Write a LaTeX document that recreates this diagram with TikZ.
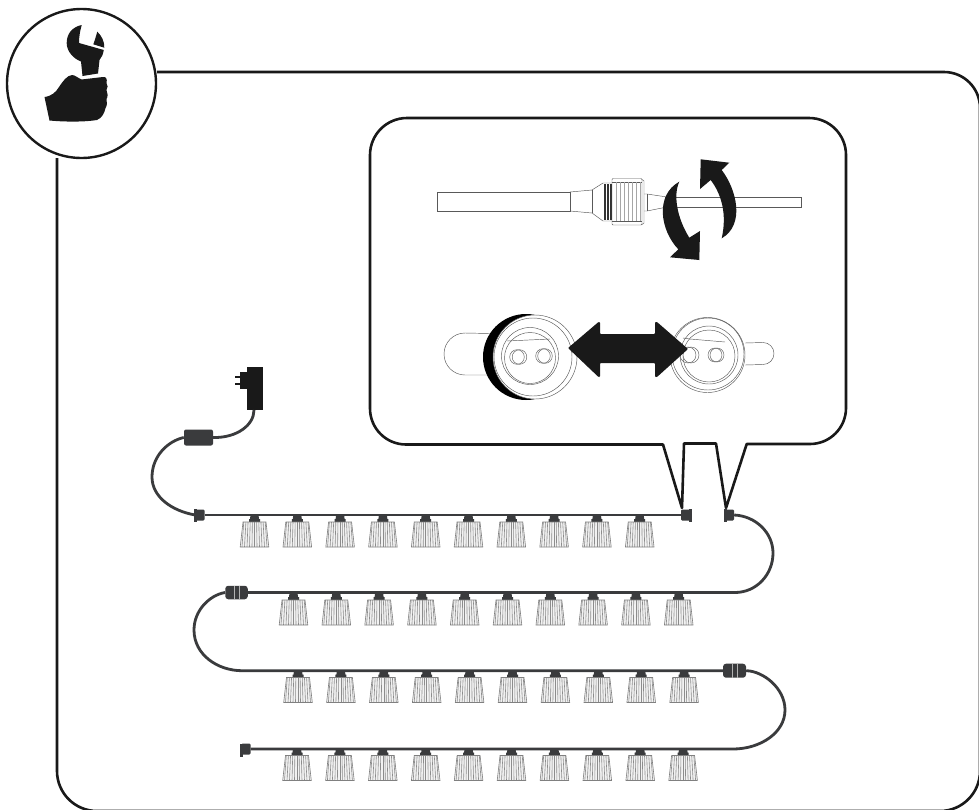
\documentclass[tikz,border=0pt]{standalone}
\begin{document}
\begin{tikzpicture}[x=1pt,y=-1pt,
  cablecol/.style={draw=cab,line width=2.8pt},
  thin line/.style={draw=black!65,line width=.45pt},
  framecol/.style={draw=black!90,line width=2.6pt},
  plugbody/.style={fill=cab,draw=none,rounded corners=1.2pt},
  lamp/.pic={
    \fill[cab] (-4,0) -- (4,0) -- (4.5,4) -- (5.5,4) -- (5.5,7) -- (-5.5,7) -- (-5.5,4) -- (-4.5,4) -- cycle;
    \fill[black!5] (-11.5,7) -- (11.5,7) -- (14.3,32) -- (-14.3,32) -- cycle;
    \foreach \k in {-5,...,5}{
      \draw[black!45,line width=.6pt] (\k*2.15,7) -- (\k*2.5,32);
    }
    \draw[black!50,line width=.6pt] (-11.5,7) -- (11.5,7) -- (14.3,32) -- (-14.3,32) -- cycle;
  }]
\definecolor{cab}{HTML}{3A3B3D}
\useasboundingbox (0,0) rectangle (979,809);
\fill[white] (0,0) rectangle (979,809);
% frame
\draw[framecol] (157,72) -- (944,72) arc[start angle=-90,end angle=0,radius=36] -- (980,771) arc[start angle=0,end angle=90,radius=40] -- (97,811) arc[start angle=90,end angle=180,radius=40] -- (57,158);
\node[circle,draw=black!90,line width=2.4pt,fill=white,minimum size=149pt,inner sep=0pt] (badge) at (81.5,83.5) {};
% wrench
\fill[black!90] (81,61.5) -- (82.5,76) -- (98,73.5) -- (99.5,60) .. controls (102,57.5) and (103,54) .. (103.8,50) -- (79,43) .. controls (79,37) and (80,31) .. (81.7,25) .. controls (72,27) and (66.7,34) .. (66.7,43) .. controls (66.7,51) and (73,58.5) .. (81,61.5) -- cycle;
\fill[black!90] (104.3,47.7) .. controls (104.5,42) and (102,36) .. (97.3,31.7) .. controls (96,36) and (95,40) .. (93.3,44.3) -- cycle;
% hand
\fill[black!90] (44.5,97) .. controls (52,96) and (56,92) .. (59,87) .. controls (63,81) and (67,75.5) .. (72,75) .. controls (75,75) and (78,78) .. (81.5,79.5) -- (103,77) .. controls (106,76.5) and (107.5,79) .. (106.5,83) .. controls (108,85) and (108,88) .. (106.5,90) .. controls (108,93) and (108,97) .. (106.5,99) .. controls (107.5,102) and (107,106) .. (105.5,108) .. controls (104.5,113) and (102,118) .. (97,120) .. controls (85,122) and (65,122) .. (49.5,120.5) -- cycle;
% callout
\draw[framecol,fill=white,line join=round] (663,444.5) -- (406,444.5) arc[start angle=90,end angle=180,radius=36] -- (370,155) arc[start angle=180,end angle=270,radius=37] -- (809,118) arc[start angle=-90,end angle=0,radius=37] -- (846,408) arc[start angle=0,end angle=90,radius=36] -- (746.7,444) -- (726,508) -- (716,443.5) -- (684,443.5) -- (682,508) -- cycle;
% nut and cable
\begin{scope}[thin line]
\draw (570,192) -- (437.5,192) -- (437.5,211) -- (570,211) -- cycle;
\draw (570,192) -- (592,190) -- (603,183) -- (612,183);
\draw (570,211) -- (592,213) -- (603,221) -- (612,221);
\draw (592,190) -- (592,213);
\fill[black!80] (604,184) rectangle (605.5,220);
\fill[black!80] (607,184) rectangle (608.5,220);
\fill[black!80] (610,184) rectangle (611.5,220);
\draw[rounded corners=1pt] (612,178.5) rectangle (642,225);
\draw (612,182) -- (642,182) (612,221) -- (642,221);
\foreach \xx in {616,620,624,628,632,636,640}{\draw[draw=black!35,line width=.3pt] (\xx,182) -- (\xx,221);}
\draw (642,179.5) -- (644,181) -- (644,223) -- (642,224.5);
\draw (644,194) -- (647,194) -- (667,197) (644,211) -- (647,211) -- (667,207);
\draw (647,194) -- (647,211);
\draw (665,197) -- (801,197) -- (801,207) -- (665,207);
\end{scope}
% curved arrows
\fill[black!90] (700.7,159.3) -- (729.3,162.7) -- (721.7,170) .. controls (737,190) and (745,225) .. (721.7,238.3) .. controls (727,215) and (722,195) .. (710.7,180) -- (700,189) -- cycle;
\fill[black!90] (679.3,181.7) .. controls (673,195) and (677,218) .. (689.3,237.7) -- (700,231) -- (699.3,260) -- (670,257.3) -- (678.3,249.3) .. controls (660,230) and (655,195) .. (679.3,181.7) -- cycle;
% left socket
\begin{scope}[thin line]
\draw (490,333.5) -- (465,333) arc[start angle=-90,end angle=-270,radius=21] -- (490,375);
\fill[black] (526,357) circle[radius=43];
\draw[fill=white] (535,357) circle[radius=42];
\draw (533,357) circle[radius=39];
\draw (530,356) circle[radius=28.5];
\draw (530,358) circle[radius=25.5];
\draw (507,341) -- (550,339);
\draw[fill=white] (517,357) circle[radius=7.3];
\draw (519.5,357) circle[radius=7.3];
\draw[fill=white] (543,356) circle[radius=7.3];
\draw (545,356) circle[radius=7.3];
% right socket
\draw (745,343) -- (763,342.5) arc[start angle=-90,end angle=90,radius=11] -- (745,365);
\draw[fill=white] (707.5,355) circle[radius=37.5];
\draw (708,354) circle[radius=36];
\draw (709,355) circle[radius=29];
\draw (709,356) circle[radius=26];
\draw (683,338) -- (690,339) -- (725,342);
\draw[fill=white] (691,355) circle[radius=8];
\draw (688,355) circle[radius=8];
\draw[fill=white] (715,355) circle[radius=7];
\draw (717,355) circle[radius=7];
\end{scope}
\fill[black!90,rounded corners=.8pt] (568,348) -- (598.5,322) -- (600,322) -- (600,334) -- (655,334) -- (655,322) -- (657,322) -- (688,349) -- (657,377) -- (655,377) -- (655,363) -- (600,363) -- (600,377) -- (598.5,377) -- cycle;
% power supply
\fill[black!90] (247,367) rectangle (263,410);
\fill[black!90] (240,372) rectangle (247,389);
\fill[black!90] (235,375.5) rectangle (240,377.5);
\fill[black!90] (235,383) rectangle (240,385);
\node[fill=cab,rounded corners=2pt,minimum width=29pt,minimum height=16pt,inner sep=0pt] (sw) at (198.5,437.5) {};
\coordinate (psu) at (254,410);
% plugs and joints
\node[plugbody,minimum width=9pt,minimum height=11pt,inner sep=0pt] (p1) at (200,515) {};
\fill[cab] (194,509) rectangle (197,521.5);
\node[plugbody,minimum width=9pt,minimum height=11pt,inner sep=0pt] (p2) at (685.5,515) {};
\fill[cab] (689,508.5) rectangle (691.7,521.5);
\node[plugbody,minimum width=9pt,minimum height=11pt,inner sep=0pt] (p3) at (729.5,515) {};
\fill[cab] (724,509) rectangle (727,522);
\node[plugbody,rounded corners=3pt,minimum width=22.5pt,minimum height=13.5pt,inner sep=0pt] (j1) at (236.5,592.5) {};
\node[plugbody,rounded corners=3pt,minimum width=23pt,minimum height=14pt,inner sep=0pt] (j2) at (734.5,670.7) {};
\node[plugbody,minimum width=9pt,minimum height=11pt,inner sep=0pt] (p4) at (246,749) {};
\fill[cab] (240,743.5) rectangle (243,756.5);
\draw[black!30,line width=.4pt] (234.5,586) -- (234.5,599) (239,586) -- (239,599) (731.7,664) -- (731.7,677.5) (737.3,664) -- (737.3,677.5);
% cables
\draw[cablecol] (psu) .. controls (254,425) and (237,438) .. (sw.east);
\draw[cablecol] (sw.west) .. controls (168,441) and (152,456) .. (152,477) .. controls (152,497) and (172,511) .. (p1.west);
\draw[cablecol] (p1.east) -- (p2.west);
\draw[cablecol] (p3.east) .. controls (756,516) and (773,533) .. (773,553) .. controls (773,575) and (756,592.5) .. (735,592.5) -- (j1.east);
\draw[cablecol] (j1.west) .. controls (210,595) and (194,610) .. (194,630) .. controls (194,655) and (218,670.7) .. (242,670.7) -- (j2.west);
\draw[cablecol] (j2.east) .. controls (763,671) and (785,688) .. (785,710) .. controls (785,733) and (760,749) .. (733,749) -- (p4.east);
% lamps
\foreach \i in {0,...,9}{
  \pgfmathsetmacro{\xa}{254.5+\i*42.8}
  \pgfmathsetmacro{\xb}{293.5+\i*42.8}
  \pgfmathsetmacro{\xc}{298+\i*42.9}
  \pgfmathsetmacro{\xd}{297+\i*42.9}
  \pic at (\xa,515) {lamp};
  \pic at (\xb,593) {lamp};
  \pic at (\xc,670.5) {lamp};
  \pic at (\xd,748.5) {lamp};
}
\end{tikzpicture}
\end{document}
